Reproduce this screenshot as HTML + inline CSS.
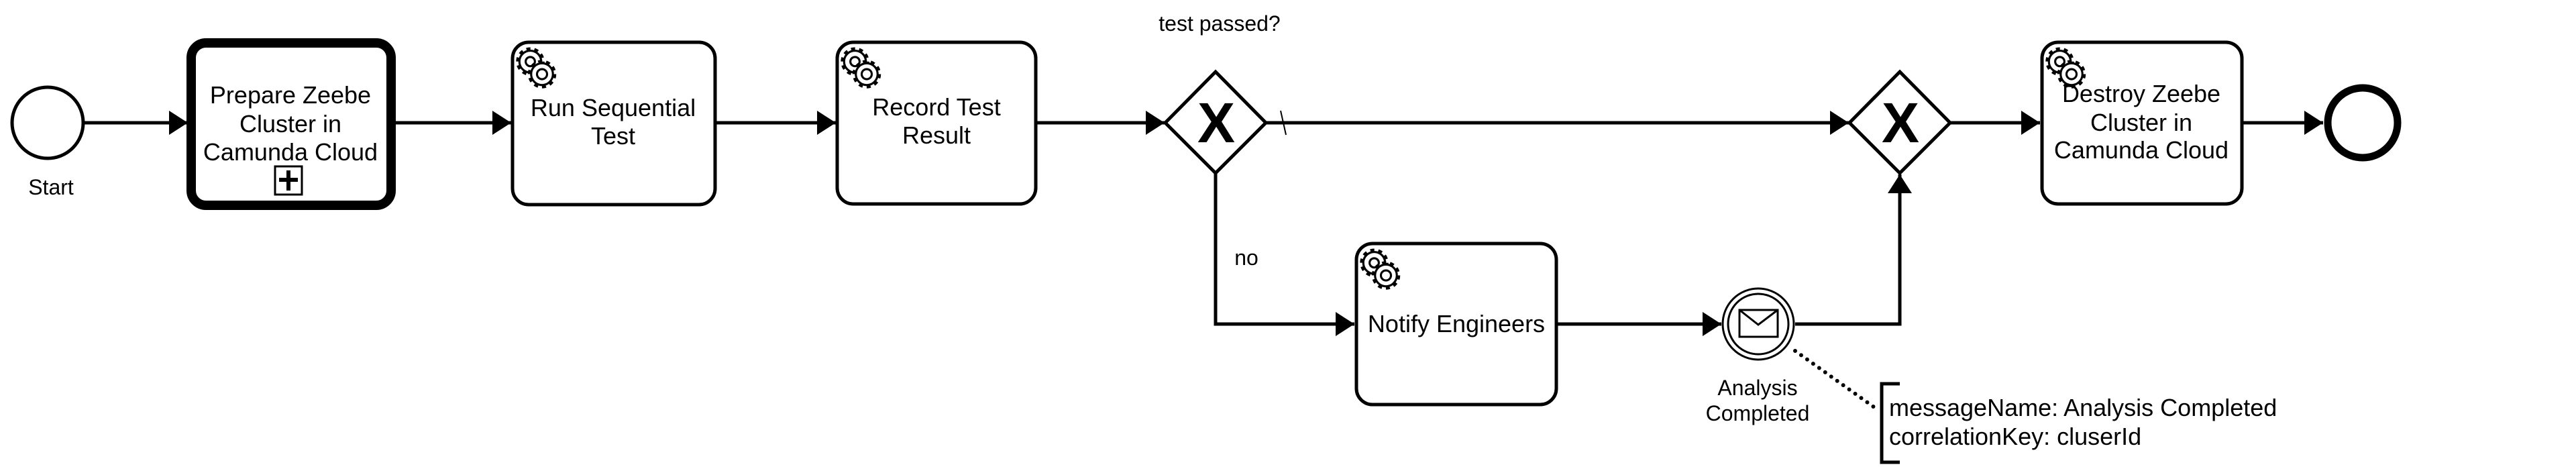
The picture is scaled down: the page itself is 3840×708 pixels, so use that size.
<!DOCTYPE html>
<html><head><meta charset="utf-8"><style>
html,body{margin:0;padding:0;background:#fff;}
svg{display:block;}
text{font-family:"Liberation Sans",sans-serif;fill:#000;}
</style></head><body>
<svg width="3840" height="708" viewBox="0 0 3840 708" xmlns="http://www.w3.org/2000/svg">
<defs>
<marker id="ar" markerWidth="30" markerHeight="36" refX="28" refY="18" orient="auto" markerUnits="userSpaceOnUse">
<path d="M0,0 L28,18 L0,36 Z" fill="#000"/>
</marker>
<g id="gear">
<g transform="scale(1.25)">
<g transform="translate(18,19)">
<circle r="13" fill="none" stroke="#000" stroke-width="8" stroke-dasharray="4.1 4.07"/>
<circle r="13" fill="#fff" stroke="#000" stroke-width="2.5"/>
<circle r="5.5" fill="#fff" stroke="#000" stroke-width="2.5"/>
</g>
<g transform="translate(32,34)">
<circle r="13" fill="none" stroke="#000" stroke-width="8" stroke-dasharray="4.1 4.07"/>
<circle r="13" fill="#fff" stroke="#000" stroke-width="2.5"/>
<circle r="6" fill="#fff" stroke="#000" stroke-width="2.5"/>
</g>
</g>
</g>
</defs>

<!-- connectors -->
<g stroke="#000" stroke-width="5" fill="none">
<line x1="126" y1="183" x2="280" y2="183" marker-end="url(#ar)"/>
<line x1="589" y1="183" x2="762" y2="183" marker-end="url(#ar)"/>
<line x1="1066" y1="183" x2="1246" y2="183" marker-end="url(#ar)"/>
<line x1="1544" y1="183" x2="1736" y2="183" marker-end="url(#ar)"/>
<line x1="1888" y1="183" x2="2756" y2="183" marker-end="url(#ar)"/>
<polyline points="1812,258 1812,483 2019,483" marker-end="url(#ar)"/>
<line x1="2320" y1="483" x2="2566" y2="483" marker-end="url(#ar)"/>
<polyline points="2676,483 2832,483 2832,260" marker-end="url(#ar)"/>
<line x1="2907" y1="183" x2="3041" y2="183" marker-end="url(#ar)"/>
<line x1="3342" y1="183" x2="3463" y2="183" marker-end="url(#ar)"/>
</g>
<line x1="1909" y1="165" x2="1917" y2="201" stroke="#000" stroke-width="2"/>

<!-- start -->
<circle cx="71" cy="183" r="53" fill="#fff" stroke="#000" stroke-width="5"/>
<text x="76" y="290" font-size="32" text-anchor="middle">Start</text>

<!-- prepare -->
<rect x="285" y="64" width="298" height="242" rx="22" fill="#fff" stroke="#000" stroke-width="14"/>
<text font-size="36" text-anchor="middle"><tspan x="433" y="154">Prepare Zeebe</tspan><tspan x="433" y="197">Cluster in</tspan><tspan x="433" y="239">Camunda Cloud</tspan></text>
<rect x="410" y="248" width="40" height="42" fill="#fff" stroke="#000" stroke-width="3"/>
<path d="M430,254 V284 M416,268 H444" stroke="#000" stroke-width="6"/>

<!-- run sequential -->
<rect x="764" y="63" width="302" height="242" rx="24" fill="#fff" stroke="#000" stroke-width="5"/>
<use href="#gear" x="768" y="68"/>
<text font-size="36" text-anchor="middle"><tspan x="914" y="173">Run Sequential</tspan><tspan x="914" y="215">Test</tspan></text>

<!-- record -->
<rect x="1248" y="63" width="296" height="241" rx="24" fill="#fff" stroke="#000" stroke-width="5"/>
<use href="#gear" x="1252" y="68"/>
<text font-size="36" text-anchor="middle"><tspan x="1396" y="172">Record Test</tspan><tspan x="1396" y="214">Result</tspan></text>

<!-- gateway 1 -->
<polygon points="1812,107 1887,183 1812,258 1737,183" fill="#fff" stroke="#000" stroke-width="5"/>
<text x="1813" y="212" font-size="84" font-weight="bold" text-anchor="middle">X</text>
<text x="1818" y="46" font-size="32" text-anchor="middle">test passed?</text>
<text x="1858" y="395" font-size="32" text-anchor="middle">no</text>

<!-- notify -->
<rect x="2022" y="363" width="298" height="240" rx="24" fill="#fff" stroke="#000" stroke-width="5"/>
<use href="#gear" x="2026" y="368"/>
<text x="2171" y="495" font-size="36" text-anchor="middle">Notify Engineers</text>

<!-- message event -->
<circle cx="2621" cy="483" r="53" fill="#fff" stroke="#000" stroke-width="3"/>
<circle cx="2621" cy="483" r="45" fill="none" stroke="#000" stroke-width="3"/>
<rect x="2593" y="462" width="57" height="40" fill="#fff" stroke="#000" stroke-width="3"/>
<polyline points="2593,462 2621,484 2650,462" fill="none" stroke="#000" stroke-width="3"/>
<text font-size="32" text-anchor="middle"><tspan x="2620" y="589">Analysis</tspan><tspan x="2620" y="627">Completed</tspan></text>
<line x1="2676" y1="523" x2="2798" y2="610" stroke="#000" stroke-width="6" stroke-linecap="round" stroke-dasharray="0 11"/>

<!-- annotation -->
<path d="M2832,572 H2805 V689 H2832" fill="none" stroke="#000" stroke-width="5"/>
<text font-size="36"><tspan x="2816" y="620">messageName: Analysis Completed</tspan><tspan x="2816" y="663">correlationKey: cluserId</tspan></text>

<!-- gateway 2 -->
<polygon points="2832,107 2907,183 2832,258 2757,183" fill="#fff" stroke="#000" stroke-width="5"/>
<text x="2833" y="212" font-size="84" font-weight="bold" text-anchor="middle">X</text>

<!-- destroy -->
<rect x="3044" y="63" width="298" height="241" rx="24" fill="#fff" stroke="#000" stroke-width="5"/>
<use href="#gear" x="3048" y="68"/>
<text font-size="36" text-anchor="middle"><tspan x="3192" y="152">Destroy Zeebe</tspan><tspan x="3192" y="195">Cluster in</tspan><tspan x="3192" y="236">Camunda Cloud</tspan></text>

<!-- end -->
<circle cx="3522" cy="183" r="52" fill="#fff" stroke="#000" stroke-width="11"/>
</svg>
</body></html>
